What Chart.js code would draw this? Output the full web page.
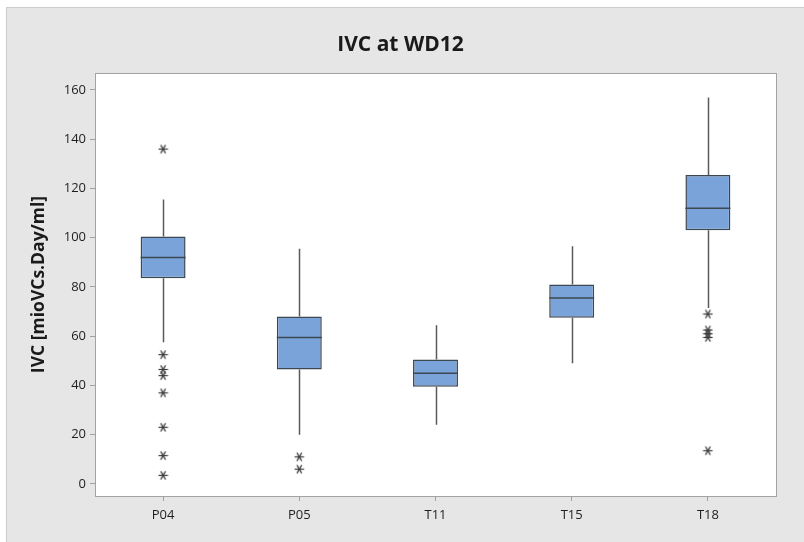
<!DOCTYPE html>
<html>
<head>
<meta charset="utf-8">
<script src="https://cdn.jsdelivr.net/npm/chart.js@4"></script>
<style>
  html, body { margin: 0; padding: 0; background: #ffffff; }
  canvas { display: block; }
</style>
</head>
<body>
<canvas id="chart" width="804" height="542"></canvas>
<script>
// IVC at WD12 – five-number summaries and outliers per group
const categories  = ['P04', 'P05', 'T11', 'T15', 'T18'];
const whiskerLow  = [57.5, 20,   24,   49,   71.5];
const quartile1   = [83.5, 46.5, 39.5, 67.5, 103];
const medians     = [92,   59.5, 45,   75.5, 112];
const quartile3   = [100.5, 68,  50.5, 81,   125.5];
const whiskerHigh = [115.5, 95.5, 64.5, 96.5, 157];
const outliers = {
  P04: [136, 52.5, 46.5, 44, 37, 23, 11.5, 3.5],
  P05: [11, 6],
  T11: [],
  T15: [],
  T18: [69, 62.5, 61, 59.5, 13.5]
};
const yTickValues = [0, 20, 40, 60, 80, 100, 120, 140, 160];

const FONT = '"Open Sans", "DejaVu Sans", sans-serif';
const BOX_FILL = '#7aa4d9';
const BOX_EDGE = '#3d4752';
const WHISKER = '#5a5a5a';

// asterisk marker used for outlying points
function asteriskMarker() {
  const c = document.createElement('canvas');
  c.width = 11; c.height = 11;
  const g = c.getContext('2d');
  g.strokeStyle = '#3a3a3a';
  g.lineWidth = 1.2;
  const cx = 5.5, cy = 5.5, r = 4.8;
  [0, 60, 120].forEach(deg => {
    const a = deg * Math.PI / 180;
    g.beginPath();
    g.moveTo(cx - r * Math.cos(a), cy - r * Math.sin(a));
    g.lineTo(cx + r * Math.cos(a), cy + r * Math.sin(a));
    g.stroke();
  });
  return c;
}

const outlierPoints = [];
categories.forEach(cat => outliers[cat].forEach(v => outlierPoints.push({ x: cat, y: v })));

// panel background, white plot area and frame
const panelPlugin = {
  id: 'panel',
  beforeDraw(chart) {
    const { ctx, chartArea: a, width, height } = chart;
    ctx.save();
    ctx.fillStyle = '#ffffff';
    ctx.fillRect(0, 0, width, height);
    ctx.fillStyle = '#e6e6e6';
    ctx.fillRect(6, 7, width - 6, height - 7);
    ctx.strokeStyle = '#cdcdcd';
    ctx.lineWidth = 1;
    ctx.strokeRect(6.5, 7.5, width - 6, height - 7);
    ctx.fillStyle = '#ffffff';
    ctx.fillRect(a.left, a.top, a.right - a.left, a.bottom - a.top);
    ctx.restore();
  },
  afterDraw(chart) {
    const { ctx, chartArea: a } = chart;
    ctx.save();
    ctx.strokeStyle = '#a3a3a3';
    ctx.lineWidth = 1;
    ctx.strokeRect(Math.round(a.left) + 0.5, Math.round(a.top) + 0.5,
      Math.round(a.right - a.left), Math.round(a.bottom - a.top));
    ctx.restore();
  }
};

// whiskers behind the boxes, medians on top of them
const boxPlotPlugin = {
  id: 'boxplot',
  beforeDatasetsDraw(chart) {
    const { ctx, scales: { x, y } } = chart;
    ctx.save();
    ctx.strokeStyle = WHISKER;
    ctx.lineWidth = 1.5;
    categories.forEach((cat, i) => {
      const px = Math.round(x.getPixelForValue(i)) + 0.5;
      ctx.beginPath();
      ctx.moveTo(px, y.getPixelForValue(whiskerHigh[i]));
      ctx.lineTo(px, y.getPixelForValue(quartile3[i]));
      ctx.moveTo(px, y.getPixelForValue(quartile1[i]));
      ctx.lineTo(px, y.getPixelForValue(whiskerLow[i]));
      ctx.stroke();
    });
    ctx.restore();
  },
  afterDatasetDraw(chart, args) {
    if (args.index !== 0) return;
    const { ctx, scales: { y } } = chart;
    const meta = chart.getDatasetMeta(0);
    ctx.save();
    ctx.strokeStyle = BOX_EDGE;
    ctx.lineWidth = 1.5;
    meta.data.forEach((bar, i) => {
      const half = bar.width / 2;
      const py = y.getPixelForValue(medians[i]);
      ctx.beginPath();
      ctx.moveTo(bar.x - half, py);
      ctx.lineTo(bar.x + half, py);
      ctx.stroke();
    });
    ctx.restore();
  }
};

new Chart(document.getElementById('chart'), {
  type: 'bar',
  data: {
    labels: categories,
    datasets: [
      {
        type: 'bar',
        data: categories.map((c, i) => [quartile1[i], quartile3[i]]),
        backgroundColor: BOX_FILL,
        borderColor: BOX_EDGE,
        borderWidth: 1.5,
        borderSkipped: false,
        categoryPercentage: 1,
        barPercentage: 0.33,
        order: 2
      },
      {
        type: 'line',
        data: outlierPoints,
        showLine: false,
        pointStyle: asteriskMarker(),
        pointRadius: 5,
        order: 1
      }
    ]
  },
  options: {
    responsive: false,
    animation: false,
    layout: { padding: { left: 25, right: 28, top: 0, bottom: 0 } },
    plugins: {
      legend: { display: false },
      tooltip: { enabled: false },
      title: {
        display: true,
        text: 'IVC at WD12',
        color: '#1a1a1a',
        font: { family: FONT, size: 21, weight: 'bold', lineHeight: 1.2 },
        padding: { top: 32, bottom: 15.8 }
      }
    },
    scales: {
      x: {
        type: 'category',
        offset: true,
        border: { display: false },
        grid: { display: true, drawOnChartArea: false, drawTicks: true, tickLength: 5, color: '#a0a0a0', offset: false },
        ticks: { color: '#1e1e1e', padding: 6, font: { family: FONT, size: 13 } },
        afterFit(scale) { scale.height = 46; }
      },
      y: {
        min: -4.9,
        max: 166.9,
        border: { display: false },
        grid: { display: true, drawOnChartArea: false, drawTicks: true, tickLength: 5, color: '#a0a0a0' },
        ticks: { color: '#1e1e1e', padding: 4, font: { family: FONT, size: 13 } },
        afterBuildTicks(scale) { scale.ticks = yTickValues.map(v => ({ value: v })); },
        title: {
          display: true,
          text: 'IVC [mioVCs.Day/ml]',
          color: '#1a1a1a',
          font: { family: FONT, size: 17.5, weight: 'bold' },
          padding: { top: 4, bottom: 4 }
        },
        afterFit(scale) { scale.width = 70; }
      }
    }
  },
  plugins: [panelPlugin, boxPlotPlugin]
});
</script>
</body>
</html>
